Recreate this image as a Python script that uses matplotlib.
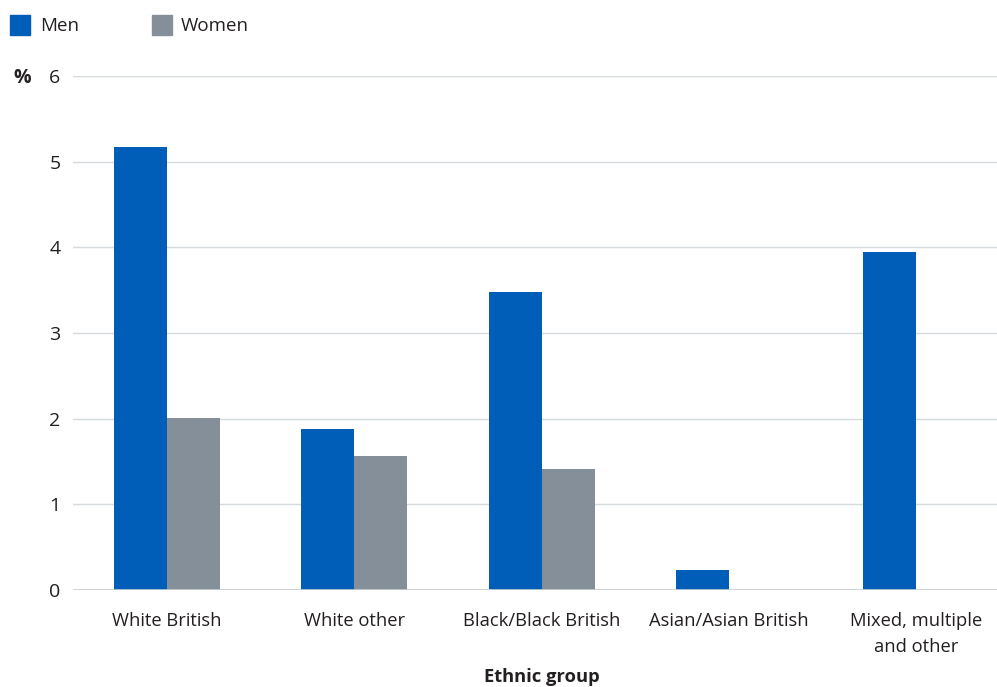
import numpy as np
import matplotlib.pyplot as plt
from matplotlib.patches import Rectangle

plt.rcParams['font.family'] = ['Open Sans', 'DejaVu Sans']

groups = ['White British', 'White other', 'Black/Black British',
          'Asian/Asian British', 'Mixed, multiple\nand other']
men = [5.17, 1.88, 3.48, 0.23, 3.94]
women = [2.01, 1.56, 1.41, 0, 0]
yticks = [0, 1, 2, 3, 4, 5, 6]

men_color = '#005EB8'
women_color = '#858F99'
text_color = '#231F20'

fig = plt.figure(figsize=(9.97, 6.87), dpi=100)
ax = fig.add_axes([73 / 997, 1 - 590 / 687, 1 - 73 / 997, (590 - 76) / 687])

x = np.arange(len(groups))
w = 0.283
ax.bar(x - w / 2, men, w, color=men_color, zorder=3)
ax.bar(x + w / 2, women, w, color=women_color, zorder=3)

ax.set_xlim(-0.5, 4.43)
ax.set_ylim(0, 6)
ax.set_yticks(yticks)
ax.set_yticklabels([str(v) for v in yticks], fontsize=14, color=text_color)
ax.set_xticks(x)
ax.set_xticklabels(groups, fontsize=13.2, color=text_color, linespacing=1.55)
ax.tick_params(axis='both', length=0)
ax.tick_params(axis='y', pad=9)
ax.tick_params(axis='x', pad=16)
ax.yaxis.grid(True, color='#D5DADC', linewidth=1, zorder=0)
for s in ax.spines.values():
    s.set_visible(False)
ax.axhline(0, color='#C8CED1', linewidth=1.2, zorder=4)

fig.text((73 + 2 * 187.5 + 93.75) / 997, 1 - 677 / 687, 'Ethnic group', fontsize=13.2,
         fontweight='bold', color=text_color, ha='center', va='center')
fig.text(22 / 997, 1 - 78 / 687, '%', fontsize=14, fontweight='bold', color=text_color,
         ha='center', va='center')

# legend
for lx, tx, lab, col in [(10, 40, 'Men', men_color), (152, 181, 'Women', women_color)]:
    fig.patches.append(Rectangle((lx / 997, 1 - 35 / 687), 20 / 997, 20 / 687,
                                 transform=fig.transFigure, color=col))
    fig.text(tx / 997, 1 - 26 / 687, lab, fontsize=13.5, color=text_color, va='center')

fig.savefig('out.png', dpi=100)
